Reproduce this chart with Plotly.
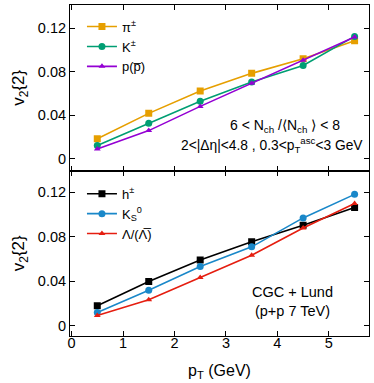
import plotly.graph_objects as go
from plotly.subplots import make_subplots

pt = [0.5, 1.5, 2.5, 3.5, 4.5, 5.5]

# top panel: identified hadrons
v2_pion = [0.0185, 0.0418, 0.0624, 0.0785, 0.0918, 0.1085]
v2_kaon = [0.0124, 0.0327, 0.0530, 0.0705, 0.0857, 0.1124]
v2_proton = [0.0091, 0.0260, 0.0482, 0.0694, 0.0905, 0.1118]

# bottom panel
v2_hadron = [0.0179, 0.0397, 0.0591, 0.0755, 0.0903, 0.1064]
v2_k0s = [0.0118, 0.0318, 0.0533, 0.0709, 0.0970, 0.1182]
v2_lambda = [0.0091, 0.0233, 0.0433, 0.0633, 0.0879, 0.1100]

yticks = [0, 0.04, 0.08, 0.12]
ytick_text = ["0", "0.04", "0.08", "0.12"]
xticks = [0, 1, 2, 3, 4, 5]

font = "Liberation Sans, Arial, sans-serif"

fig = make_subplots(rows=2, cols=1, shared_xaxes=True, vertical_spacing=0)

top = [("π<sup>±</sup>", v2_pion, "#E69F00", "square", 7),
       ("K<sup>±</sup>", v2_kaon, "#009E73", "circle", 7),
       ("p(p\u0305)", v2_proton, "#9400D3", "triangle-up", 6)]
bot = [("h<sup>±</sup>", v2_hadron, "#000000", "square", 7),
       ("K<sub>S</sub><sup>0</sup>", v2_k0s, "#1a88c9", "circle", 7),
       ("Λ/(Λ\u0305)", v2_lambda, "#E51E10", "triangle-up", 6)]

for i, (name, ys, col, sym, sz) in enumerate(top):
    fig.add_trace(go.Scatter(x=pt, y=ys, name=name, mode="lines+markers",
                             line=dict(color=col, width=1.6),
                             marker=dict(color=col, symbol=sym, size=sz),
                             legend="legend", legendgroup="t%d" % i), row=1, col=1)
for i, (name, ys, col, sym, sz) in enumerate(bot):
    fig.add_trace(go.Scatter(x=pt, y=ys, name=name, mode="lines+markers",
                             line=dict(color=col, width=1.6),
                             marker=dict(color=col, symbol=sym, size=sz),
                             legend="legend2", legendgroup="b%d" % i), row=2, col=1)

axis_common = dict(showline=True, linecolor="black", linewidth=1, mirror="allticks",
                   ticks="inside", ticklen=5, tickcolor="black", showgrid=False,
                   zeroline=False, automargin=False,
                   tickfont=dict(family=font, size=14.5, color="black"))

fig.update_xaxes(range=[-0.03, 5.78], tickvals=xticks, **axis_common)
fig.update_xaxes(showticklabels=False, row=1, col=1)
fig.update_xaxes(ticklabelstandoff=-6,
                 title=dict(text="p<sub>T</sub> (GeV)", standoff=14,
                            font=dict(family=font, size=16, color="black")), row=2, col=1)
fig.update_yaxes(tickvals=yticks, ticktext=ytick_text, **axis_common)
fig.update_yaxes(range=[-0.0106, 0.1412], row=1, col=1)
fig.update_yaxes(range=[-0.0094, 0.1397], row=2, col=1)
for r in (1, 2):
    fig.update_yaxes(title=dict(text="v<sub>2</sub>{2}", standoff=8,
                                font=dict(family=font, size=17, color="black")), row=r, col=1)

fig.add_annotation(text="6 < N<sub>ch</sub> /⟨N<sub>ch</sub> ⟩ < 8", xref="x", yref="y",
                   x=4.15, y=0.0305, showarrow=False,
                   font=dict(family=font, size=14, color="black"))
fig.add_annotation(text="2<|Δη|<4.8 , 0.3<p<sub>T</sub><sup>asc</sup><3 GeV", xref="x", yref="y",
                   x=5.7, y=0.0125, xanchor="right", showarrow=False,
                   font=dict(family=font, size=13.8, color="black"))
fig.add_annotation(text="CGC + Lund<br>(p+p 7 TeV)", xref="x2", yref="y2", align="center",
                   x=4.3, y=0.0215, showarrow=False,
                   font=dict(family=font, size=14.5, color="black"))

leg = dict(font=dict(family=font, size=13, color="black"), bgcolor="rgba(0,0,0,0)",
           itemwidth=30, tracegroupgap=0, traceorder="grouped",
           xanchor="left", yanchor="top")
fig.update_layout(
    width=374, height=383,
    margin=dict(l=70, r=5, t=5, b=47),
    plot_bgcolor="white", paper_bgcolor="white",
    legend=dict(x=0.04, y=0.98, **leg),
    legend2=dict(x=0.04, y=0.475, **leg),
)

# page body has a default 8px margin; drop it so the figure fills the window
fig.write_html("out.html", config={"displayModeBar": False},
               post_script="document.body.style.margin='0';")
